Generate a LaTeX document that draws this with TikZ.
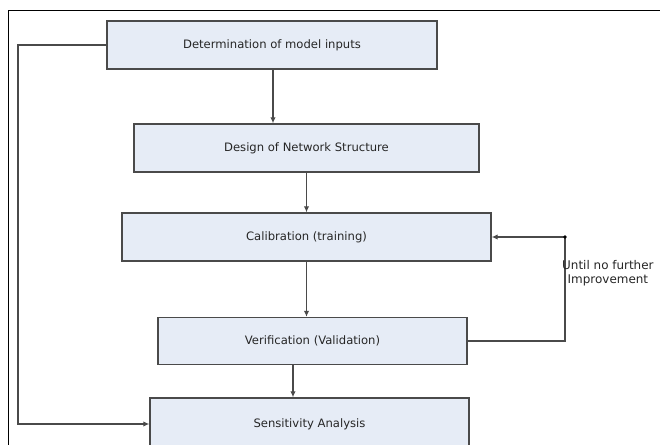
\documentclass[tikz,border=0pt]{standalone}
\usepackage{fontspec}
\setmainfont{DejaVu Sans}
\usepackage{xcolor}
\usetikzlibrary{arrows.meta,positioning,calc}
\definecolor{boxfill}{HTML}{E6ECF6}
\definecolor{boxline}{HTML}{4A4A4A}

\begin{document}
\begin{tikzpicture}[x=0.03cm, y=-0.03cm, font=\fontsize{9.9}{12}\selectfont, >={Latex[length=1.8mm,width=1.6mm]},
    stagebox/.style={draw=boxline, line width=1.1pt, fill=boxfill, text=black!85, inner sep=0pt, anchor=center}]
  \clip (0,0) rectangle (660,445);
  \fill[white] (0,0) rectangle (660,445);
  % outer frame
  \draw[black, line width=0.8pt] (8,470) -- (8,10) -- (700,10);
  % stages
  \node[stagebox, minimum width=330*0.03cm, minimum height=48*0.03cm] (inputs) at (272,45) {Determination of model inputs};
  \node[stagebox, minimum width=345*0.03cm, minimum height=48*0.03cm] (design) at (306.5,148) {Design of Network Structure};
  \node[stagebox, minimum width=369*0.03cm, minimum height=48*0.03cm] (calib) at (306.5,237) {Calibration (training)};
  \node[stagebox, minimum width=309*0.03cm, minimum height=47*0.03cm] (verif) at (312.5,341) {Verification (Validation)};
  \node[stagebox, minimum width=319*0.03cm, minimum height=52*0.03cm] (sens) at (309.5,424) {Sensitivity Analysis};
  % flow
  \draw[->, boxline, line width=1pt] ([xshift=0.03cm]inputs.south) -- ([xshift=0.03cm]inputs.south |- design.north);
  \draw[->, boxline, line width=1pt] (design.south) -- (design.south |- calib.north);
  \draw[->, boxline, line width=1pt] (calib.south) -- (calib.south |- verif.north);
  \draw[->, boxline, line width=1pt] ([xshift=-19.5*0.03cm]verif.south) -- ([xshift=-19.5*0.03cm]verif.south |- sens.north);
  % bypass to sensitivity
  \coordinate (bypass) at (18,45);
  \draw[->, boxline, line width=1pt] (inputs.west) -- (bypass) |- (sens.west);
  % training loop
  \coordinate (loop) at (565,237);
  \draw[boxline, line width=1pt] (verif.east) -| (loop);
  \draw[->, boxline, line width=1pt] (loop) -- (calib.east);
  \fill[black] (loop) circle (1.6pt);
  \node[align=center, text=black!85, inner sep=0pt, anchor=west, font=\fontsize{10.2}{12}\selectfont] (looptext) at (562,273.5) {Until no further\\Improvement};
\end{tikzpicture}
\end{document}
